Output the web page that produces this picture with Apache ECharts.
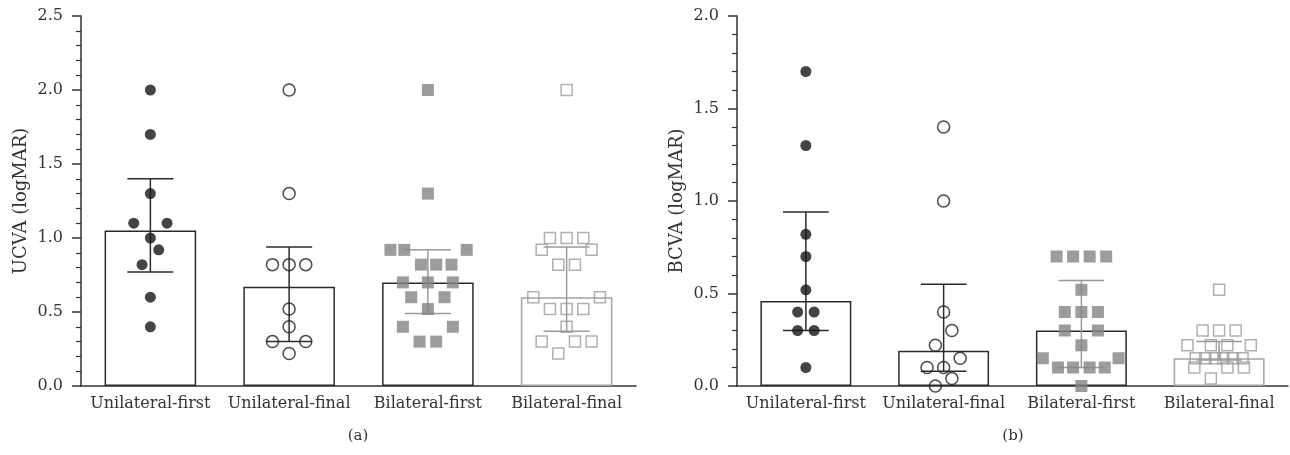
<!DOCTYPE html>
<html>
<head>
<meta charset="utf-8">
<script src="https://cdn.jsdelivr.net/npm/echarts@6/dist/echarts.min.js"></script>
<style>
  html, body { margin: 0; padding: 0; background: #fff; }
  #main { width: 1290px; height: 455px; }
</style>
</head>
<body>
<div id="main"></div>
<script>
// categories
var groups = ['Unilateral-first', 'Unilateral-final', 'Bilateral-first', 'Bilateral-final'];

// (a) UCVA - bar heights and error bar ends
var ucvaBar = [1.05, 0.67, 0.70, 0.60];
var ucvaLow = [0.77, 0.30, 0.49, 0.37];
var ucvaHigh = [1.40, 0.94, 0.92, 0.94];

// (a) individual eyes
var ucvaUniFirst = [2.0, 1.7, 1.3, 1.1, 1.1, 1.0, 0.92, 0.82, 0.6, 0.4];
var ucvaUniFinal = [2.0, 1.3, 0.82, 0.82, 0.82, 0.52, 0.4, 0.3, 0.3, 0.22];
var ucvaBiFirst = [2.0, 1.3, 0.92, 0.92, 0.92, 0.82, 0.82, 0.82, 0.7, 0.7, 0.7, 0.6, 0.6, 0.52, 0.4, 0.4, 0.3, 0.3];
var ucvaBiFinal = [2.0, 1.0, 1.0, 1.0, 0.92, 0.92, 0.82, 0.82, 0.6, 0.6, 0.52, 0.52, 0.52, 0.4, 0.3, 0.3, 0.3, 0.22];

// horizontal spread of the dots inside a category (category units)
var ucvaUniFirstJit = [0, 0, 0, -0.12, 0.12, 0, 0.06, -0.06, 0, 0];
var ucvaUniFinalJit = [0, 0, -0.12, 0, 0.12, 0, 0, -0.12, 0.12, 0];
var ucvaBiFirstJit = [0, 0, -0.27, -0.17, 0.28, -0.05, 0.06, 0.17, -0.18, 0, 0.18, -0.12, 0.12, 0, -0.18, 0.18, -0.06, 0.06];
var ucvaBiFinalJit = [0, -0.12, 0, 0.12, -0.18, 0.18, -0.06, 0.06, -0.24, 0.24, -0.12, 0, 0.12, 0, -0.18, 0.06, 0.18, -0.06];

// (b) BCVA
var bcvaBar = [0.46, 0.19, 0.30, 0.15];
var bcvaLow = [0.30, 0.08, 0.10, 0.14];
var bcvaHigh = [0.94, 0.55, 0.57, 0.24];

var bcvaUniFirst = [1.7, 1.3, 0.82, 0.7, 0.52, 0.4, 0.4, 0.3, 0.3, 0.1];
var bcvaUniFinal = [1.4, 1.0, 0.4, 0.3, 0.22, 0.15, 0.1, 0.1, 0.04, 0.0];
var bcvaBiFirst = [0.7, 0.7, 0.7, 0.7, 0.52, 0.4, 0.4, 0.4, 0.3, 0.3, 0.22, 0.15, 0.15, 0.1, 0.1, 0.1, 0.1, 0.0];
var bcvaBiFinal = [0.52, 0.3, 0.3, 0.3, 0.22, 0.22, 0.22, 0.22, 0.15, 0.15, 0.15, 0.15, 0.15, 0.15, 0.1, 0.1, 0.1, 0.04];

var bcvaUniFirstJit = [0, 0, 0, 0, 0, -0.06, 0.06, -0.06, 0.06, 0];
var bcvaUniFinalJit = [0, 0, 0, 0.06, -0.06, 0.12, -0.12, 0, 0.06, -0.06];
var bcvaBiFirstJit = [-0.18, -0.06, 0.06, 0.18, 0, -0.12, 0, 0.12, -0.12, 0.12, 0, -0.28, 0.27, -0.17, -0.06, 0.06, 0.17, 0];
var bcvaBiFinalJit = [0, -0.12, 0, 0.12, -0.23, -0.06, 0.06, 0.23, -0.17, -0.1, -0.03, 0.03, 0.1, 0.17, -0.18, 0.06, 0.18, -0.06];

var FONT = 'DejaVu Serif';
var barBorder = ['#2b2b2b', '#2b2b2b', '#2b2b2b', '#a3a3a3'];
var errColor = ['#2b2b2b', '#2b2b2b', '#9a9a9a', '#9a9a9a'];

function pts(vals, jit, idx) {
  return vals.map(function (v, i) { return [idx + jit[i], v]; });
}

function yAxis(g, max, name) {
  return {
    type: 'value', gridIndex: g, min: 0, max: max, interval: 0.5,
    name: name, nameLocation: 'middle', nameGap: 51,
    nameTextStyle: { fontFamily: FONT, fontSize: 18, color: '#333' },
    axisLine: { show: true, onZero: false, lineStyle: { color: '#333', width: 1.5 } },
    axisTick: { show: true, length: 9, lineStyle: { color: '#333', width: 1.5 } },
    minorTick: { show: true, splitNumber: 5, length: 5, lineStyle: { color: '#333', width: 1.2 } },
    splitLine: { show: false },
    axisLabel: { margin: 18, fontFamily: FONT, fontSize: 16, color: '#333',
      formatter: function (v) { return v.toFixed(1); } }
  };
}

function xCat(g) {
  return {
    type: 'category', gridIndex: g, data: groups,
    axisLine: { onZero: false, lineStyle: { color: '#333', width: 1.5 } },
    axisTick: { show: false },
    axisLabel: { margin: 10, fontFamily: FONT, fontSize: 16, color: '#333', interval: 0 }
  };
}

function xVal(g) {
  return { type: 'value', gridIndex: g, min: -0.5, max: 3.5, show: false };
}

function barSeries(g, vals) {
  return {
    type: 'bar', xAxisIndex: g * 2, yAxisIndex: g, barWidth: '66%', z: 1,
    data: vals.map(function (v, i) {
      return { value: v, itemStyle: { color: '#fff', borderColor: barBorder[i], borderWidth: 1.5 } };
    })
  };
}

function errSeries(g, low, high) {
  return {
    type: 'custom', xAxisIndex: g * 2, yAxisIndex: g, z: 2,
    data: low.map(function (l, i) { return [i, l, high[i]]; }),
    renderItem: function (params, api) {
      var i = api.value(0);
      var lo = api.coord([i, api.value(1)]);
      var hi = api.coord([i, api.value(2)]);
      var half = api.size([1, 0])[0] * 0.166;
      var st = { stroke: errColor[i], lineWidth: 1.5 };
      return {
        type: 'group', children: [
          { type: 'line', shape: { x1: lo[0], y1: lo[1], x2: hi[0], y2: hi[1] }, style: st },
          { type: 'line', shape: { x1: hi[0] - half, y1: hi[1], x2: hi[0] + half, y2: hi[1] }, style: st },
          { type: 'line', shape: { x1: lo[0] - half, y1: lo[1], x2: lo[0] + half, y2: lo[1] }, style: st }
        ]
      };
    }
  };
}

var markStyles = [
  { symbol: 'circle', symbolSize: 11, itemStyle: { color: '#151515' } },
  { symbol: 'circle', symbolSize: 12, itemStyle: { color: 'rgba(0,0,0,0)', borderColor: '#1e1e1e', borderWidth: 1.5 } },
  { symbol: 'rect', symbolSize: 12, itemStyle: { color: '#838387' } },
  { symbol: 'rect', symbolSize: 11, itemStyle: { color: 'rgba(0,0,0,0)', borderColor: '#9c9c9c', borderWidth: 1.5 } }
];

function dotSeries(g, idx, vals, jit) {
  var m = markStyles[idx];
  return {
    type: 'scatter', xAxisIndex: g * 2 + 1, yAxisIndex: g, z: 3,
    symbol: m.symbol, symbolSize: m.symbolSize, itemStyle: m.itemStyle,
    data: pts(vals, jit, idx)
  };
}

var chart = echarts.init(document.getElementById('main'));
chart.setOption({
  animation: false,
  backgroundColor: '#fff',
  grid: [
    { left: 81, right: 654, top: 16, bottom: 69 },
    { left: 737, right: 2, top: 16, bottom: 69 }
  ],
  xAxis: [xCat(0), xVal(0), xCat(1), xVal(1)],
  yAxis: [yAxis(0, 2.5, 'UCVA (logMAR)'), yAxis(1, 2.0, 'BCVA (logMAR)')],
  graphic: [
    { type: 'text', x: 358, y: 436, style: { text: '(a)', fontFamily: FONT, fontSize: 15, fill: '#333', textAlign: 'center', textVerticalAlign: 'middle' } },
    { type: 'text', x: 1013, y: 436, style: { text: '(b)', fontFamily: FONT, fontSize: 15, fill: '#333', textAlign: 'center', textVerticalAlign: 'middle' } }
  ],
  series: [
    barSeries(0, ucvaBar),
    errSeries(0, ucvaLow, ucvaHigh),
    dotSeries(0, 0, ucvaUniFirst, ucvaUniFirstJit),
    dotSeries(0, 1, ucvaUniFinal, ucvaUniFinalJit),
    dotSeries(0, 2, ucvaBiFirst, ucvaBiFirstJit),
    dotSeries(0, 3, ucvaBiFinal, ucvaBiFinalJit),
    barSeries(1, bcvaBar),
    errSeries(1, bcvaLow, bcvaHigh),
    dotSeries(1, 0, bcvaUniFirst, bcvaUniFirstJit),
    dotSeries(1, 1, bcvaUniFinal, bcvaUniFinalJit),
    dotSeries(1, 2, bcvaBiFirst, bcvaBiFirstJit),
    dotSeries(1, 3, bcvaBiFinal, bcvaBiFinalJit)
  ]
});
</script>
</body>
</html>
